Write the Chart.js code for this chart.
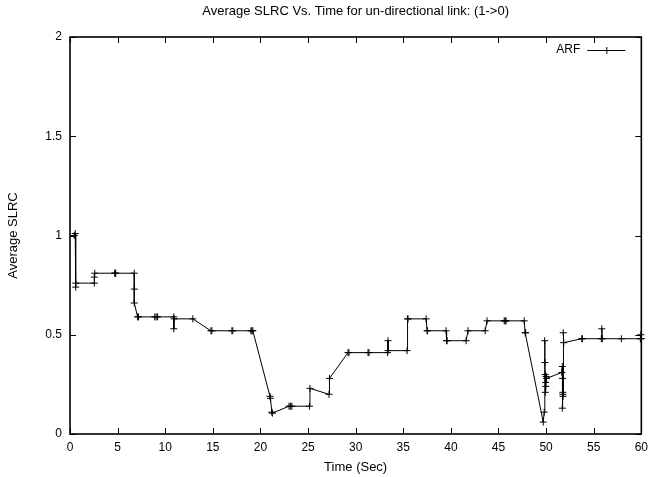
<!DOCTYPE html>
<html>
<head>
<meta charset="utf-8">
<script src="https://cdn.jsdelivr.net/npm/chart.js@4/dist/chart.umd.min.js"></script>
<style>
  html, body { margin: 0; padding: 0; background: #fff; }
  #wrap { width: 654px; height: 477px; }
</style>
</head>
<body>
<div id="wrap"><canvas id="slrcChart" width="654" height="477"></canvas></div>
<script>
const chartTitle = 'Average SLRC Vs. Time for un-directional link: (1->0)';
const seriesName = 'ARF';
const xTicks = [0, 5, 10, 15, 20, 25, 30, 35, 40, 45, 50, 55, 60];
const yTicks = [0, 0.5, 1, 1.5, 2];

const timeSec = [
  0.45, 0.55, 0.6, 0.6,
  2.55, 2.55, 2.6,
  4.7, 4.75, 4.8,
  6.75, 6.75, 6.75,
  7.1, 7.2,
  8.9, 9.05, 9.2,
  10.9, 10.9, 10.95,
  12.9,
  14.8, 14.9,
  17.0, 17.1,
  19.0, 19.1, 19.2,
  21.0, 21.05, 21.2, 21.25,
  23.0, 23.15, 23.3,
  25.15, 25.2,
  27.2, 27.25,
  29.2, 29.3,
  31.3, 31.4,
  33.35, 33.4, 33.4,
  35.4, 35.45, 35.5,
  37.4, 37.5, 37.55,
  39.5, 39.55, 39.6,
  41.6, 41.8,
  43.6, 43.8,
  45.6, 45.7, 45.8,
  47.7, 47.8, 47.85,
  49.7, 49.8, 49.85, 49.88, 49.9, 49.92, 49.95, 49.97, 50.0, 50.05,
  51.65, 51.7, 51.7, 51.72, 51.75, 51.75, 51.78, 51.8, 51.85,
  53.75, 53.8,
  55.8, 55.85, 55.9,
  57.9,
  59.9, 59.95, 60.0
];

const avgSlrc = [
  1.0, 1.01, 0.74, 0.76,
  0.76, 0.79, 0.81,
  0.81, 0.81, 0.81,
  0.81, 0.73, 0.66,
  0.59, 0.59,
  0.59, 0.59, 0.59,
  0.59, 0.53, 0.58,
  0.58,
  0.52, 0.52,
  0.52, 0.52,
  0.52, 0.52, 0.52,
  0.19, 0.18, 0.11, 0.105,
  0.14, 0.14, 0.14,
  0.14, 0.23,
  0.20, 0.28,
  0.41, 0.41,
  0.41, 0.41,
  0.41, 0.47, 0.42,
  0.42, 0.58, 0.58,
  0.58, 0.52, 0.52,
  0.52, 0.47, 0.47,
  0.47, 0.52,
  0.52, 0.57,
  0.57, 0.57, 0.57,
  0.57, 0.51, 0.51,
  0.06, 0.11, 0.47, 0.36, 0.30, 0.21, 0.26, 0.24, 0.29, 0.28,
  0.31, 0.34, 0.13, 0.28, 0.21, 0.20, 0.19, 0.51, 0.46,
  0.48, 0.48,
  0.48, 0.53, 0.48,
  0.48,
  0.48, 0.50, 0.48
];

const points = timeSec.map((t, i) => ({ x: t, y: avgSlrc[i] }));
const fontFamily = '"Liberation Sans", Arial, Helvetica, sans-serif';

// gnuplot style: full border, ticks pointing inward on all four sides, key inside top right
const gnuplotFrame = {
  id: 'gnuplotFrame',
  afterDraw(chart) {
    const { ctx, chartArea: a, scales } = chart;
    const tl = 6;
    ctx.save();
    ctx.strokeStyle = '#000';
    ctx.lineWidth = 1;
    ctx.beginPath();
    xTicks.forEach(v => {
      const px = Math.round(scales.x.getPixelForValue(v)) + 0.5;
      ctx.moveTo(px, a.bottom); ctx.lineTo(px, a.bottom - tl);
      ctx.moveTo(px, a.top); ctx.lineTo(px, a.top + tl);
    });
    yTicks.forEach(v => {
      const py = Math.round(scales.y.getPixelForValue(v)) + 0.5;
      ctx.moveTo(a.left, py); ctx.lineTo(a.left + tl, py);
      ctx.moveTo(a.right, py); ctx.lineTo(a.right - tl, py);
    });
    ctx.stroke();
    ctx.lineWidth = 1.6;
    ctx.strokeRect(a.left, a.top, a.right - a.left, a.bottom - a.top);

    // key
    const ky = a.top + 13;
    ctx.fillStyle = '#000';
    ctx.font = '12px ' + fontFamily;
    ctx.textAlign = 'right';
    ctx.textBaseline = 'middle';
    ctx.fillText(seriesName, a.right - 61, ky);
    ctx.lineWidth = 1;
    ctx.beginPath();
    ctx.moveTo(a.right - 54, ky + 0.5); ctx.lineTo(a.right - 16, ky + 0.5);
    const cx = a.right - 35;
    ctx.moveTo(cx + 0.5, ky - 3); ctx.lineTo(cx + 0.5, ky + 4);
    ctx.moveTo(cx - 3, ky + 0.5); ctx.lineTo(cx + 4, ky + 0.5);
    ctx.stroke();
    ctx.restore();
  }
};

new Chart(document.getElementById('slrcChart'), {
  type: 'scatter',
  data: {
    datasets: [{
      label: seriesName,
      data: points,
      showLine: true,
      borderColor: '#000',
      borderWidth: 1,
      tension: 0,
      pointStyle: 'cross',
      pointRadius: 3.5,
      pointBorderColor: '#000',
      pointBorderWidth: 1,
      clip: false
    }]
  },
  options: {
    responsive: false,
    animation: false,
    devicePixelRatio: 1,
    layout: { padding: { left: 0, right: 11, top: 0, bottom: 0 } },
    scales: {
      x: {
        type: 'linear',
        min: 0,
        max: 60,
        afterBuildTicks: s => { s.ticks = xTicks.map(v => ({ value: v })); },
        afterFit: s => { s.height = 43; },
        ticks: { color: '#000', font: { family: fontFamily, size: 12 }, padding: 6, maxRotation: 0, callback: v => String(v) },
        grid: { display: false, drawTicks: false },
        border: { display: false },
        title: { display: true, text: 'Time (Sec)', color: '#000', font: { family: fontFamily, size: 13 }, padding: { top: 0, bottom: 2 } }
      },
      y: {
        min: 0,
        max: 2,
        afterBuildTicks: s => { s.ticks = yTicks.map(v => ({ value: v })); },
        afterFit: s => { s.width = 70; },
        ticks: { color: '#000', font: { family: fontFamily, size: 12 }, padding: 8, callback: v => String(v) },
        grid: { display: false, drawTicks: false },
        border: { display: false },
        title: { display: true, text: 'Average SLRC', color: '#000', font: { family: fontFamily, size: 13 }, padding: { top: 6, bottom: 0 } }
      }
    },
    plugins: {
      legend: { display: false },
      tooltip: { enabled: false },
      title: {
        display: true,
        fullSize: false,
        text: chartTitle,
        color: '#000',
        font: { family: fontFamily, size: 13, weight: 'normal' },
        padding: { top: 4, bottom: 17.4 }
      }
    }
  },
  plugins: [gnuplotFrame]
});
</script>
</body>
</html>
